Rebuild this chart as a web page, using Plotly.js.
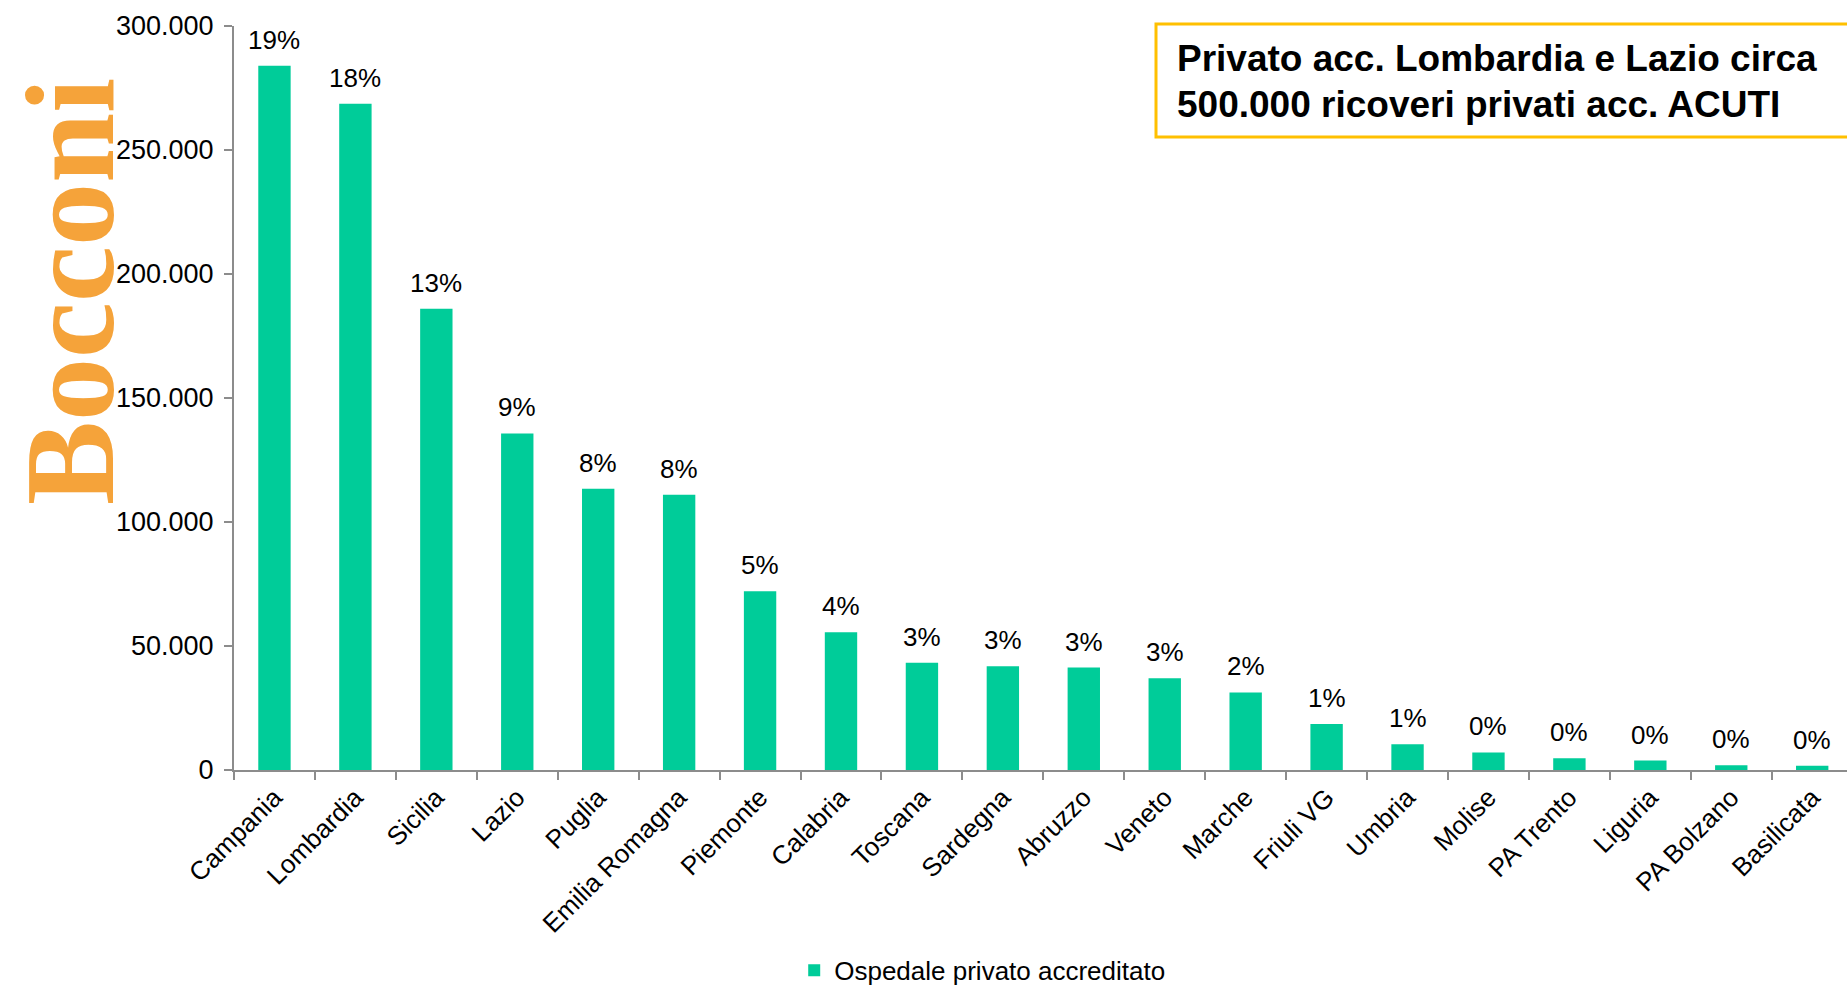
<!DOCTYPE html>
<html><head><meta charset="utf-8">
<script src="https://cdn.plot.ly/plotly-3.0.1.min.js"></script>
<style>html,body{margin:0;padding:0;background:#fff}#chart{width:1847px;height:985px}</style>
</head><body><div id="chart"></div>
<script>
const regions = ['Campania','Lombardia','Sicilia','Lazio','Puglia','Emilia Romagna','Piemonte','Calabria','Toscana','Sardegna','Abruzzo','Veneto','Marche','Friuli VG','Umbria','Molise','PA Trento','Liguria','PA Bolzano','Basilicata'];
const ricoveri = [284000,268600,186000,135700,113400,111000,72100,55500,43200,41800,41300,37000,31300,18500,10400,7100,4700,3800,1900,1700];
const quote = ['19%','18%','13%','9%','8%','8%','5%','4%','3%','3%','3%','3%','2%','1%','1%','0%','0%','0%','0%','0%'];
const yTickVals = [0,50000,100000,150000,200000,250000,300000];
const yTickText = ['0','50.000','100.000','150.000','200.000','250.000','300.000'];
const seriesName = 'Ospedale privato accreditato';
const boxLines = ['Privato acc. Lombardia e Lazio circa','500.000 ricoveri privati acc. ACUTI'];

const L = 234, T = 26, W = 1613, H = 744;
const px = x => (x - L) / W;
const py = y => (T + H - y) / H;
const FONT = 'Liberation Sans, Arial, sans-serif';
const GRAY = '#8c8c8c';

const annotations = regions.map((r, i) => ({
  x: r, y: ricoveri[i], xref: 'x', yref: 'y', text: quote[i], showarrow: false,
  yanchor: 'bottom', yshift: 9, font: {family: FONT, size: 26, color: '#000'}
}));
annotations.push({
  xref: 'paper', yref: 'paper', x: px(70), y: py(292), text: 'Bocconi', showarrow: false,
  textangle: -90, xanchor: 'center', yanchor: 'middle',
  font: {family: 'Liberation Serif, Times New Roman, serif', size: 126, color: '#F5A33A', weight: 'bold'}
});
annotations.push({
  xref: 'paper', yref: 'paper', x: px(1175), y: py(59), text: '<b>' + boxLines[0] + '</b>', showarrow: false,
  xanchor: 'left', yanchor: 'middle', font: {family: FONT, size: 37, color: '#000'}
});
annotations.push({
  xref: 'paper', yref: 'paper', x: px(1175), y: py(104), text: '<b>' + boxLines[1] + '</b>', showarrow: false,
  xanchor: 'left', yanchor: 'middle', font: {family: FONT, size: 37, color: '#000'}
});

const data = [{
  type: 'bar', x: regions, y: ricoveri, name: seriesName,
  marker: {color: '#00CC99'}, showlegend: true, hoverinfo: 'x+y'
}];

const layout = {
  width: 1847, height: 985, autosize: false,
  margin: {l: L, r: 0, t: T, b: 985 - T - H, pad: 0},
  paper_bgcolor: '#fff', plot_bgcolor: '#fff',
  bargap: 0.6,
  font: {family: FONT, size: 26, color: '#000'},
  xaxis: {
    type: 'category', range: [-0.5, 19.43], tickson: 'boundaries',
    ticks: 'outside', ticklen: 8, tickwidth: 2, tickcolor: GRAY,
    showline: true, linecolor: GRAY, linewidth: 2,
    tickangle: -45, tickfont: {family: FONT, size: 26, color: '#000'},
    showgrid: false, zeroline: false, fixedrange: true
  },
  yaxis: {
    range: [0, 300000], tickvals: yTickVals, ticktext: yTickText,
    ticks: 'outside', ticklen: 8, tickwidth: 2, tickcolor: GRAY,
    showline: true, linecolor: GRAY, linewidth: 2, ticklabelstandoff: 5,
    tickfont: {family: FONT, size: 27, color: '#000'},
    showgrid: false, zeroline: false, fixedrange: true
  },
  showlegend: true,
  legend: {
    orientation: 'h', xref: 'container', yref: 'container',
    x: 0.43, y: 0.015, xanchor: 'left', yanchor: 'middle',
    font: {family: FONT, size: 26, color: '#000'}, bgcolor: 'rgba(0,0,0,0)'
  },
  shapes: [{
    type: 'rect', xref: 'paper', yref: 'paper',
    x0: px(1156), x1: px(1870), y0: py(137), y1: py(24),
    line: {color: '#FFC000', width: 3}, fillcolor: '#fff', layer: 'below'
  }],
  annotations: annotations
};

Plotly.newPlot('chart', data, layout, {displayModeBar: false, staticPlot: true});
</script></body></html>
